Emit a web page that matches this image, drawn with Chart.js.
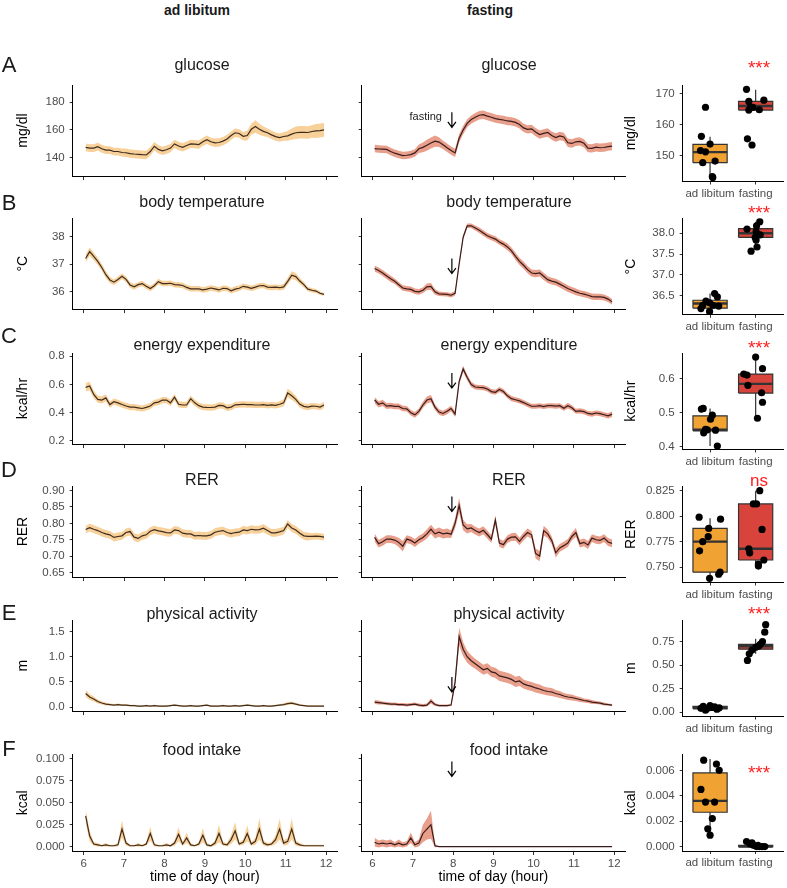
<!DOCTYPE html>
<html>
<head>
<meta charset="utf-8">
<script src="https://cdn.jsdelivr.net/npm/chart.js@4.4.1/dist/chart.umd.min.js"></script>
<style>
  body { margin: 0; background: #fff; }
  #fig { position: relative; width: 787px; height: 888px; overflow: hidden; font-family: "Liberation Sans", Arial, sans-serif; background: #fff; }
  #fig canvas { position: absolute; }
  .lbl { position: absolute; transform: translate(-50%, -50%); white-space: nowrap; color: #1a1a1a; line-height: 1; }
  .head { font-size: 14px; font-weight: bold; }
  .letter { font-size: 22px; }
  .title { font-size: 16px; }
  .star { font-size: 19px; color: #ff1f1f; }
  .ns { font-size: 17px; color: #ff1f1f; }
</style>
</head>
<body>
<div id="fig"></div>
<script>
// ---- time axis ----
const TIME_H = [
  6.05, 6.15, 6.25, 6.35, 6.45, 6.55, 6.65, 6.75, 6.85, 6.95,
  7.05, 7.15, 7.25, 7.35, 7.45, 7.55, 7.65, 7.75, 7.85, 7.95,
  8.05, 8.15, 8.25, 8.35, 8.45, 8.55, 8.65, 8.75, 8.85, 8.95,
  9.05, 9.15, 9.25, 9.35, 9.45, 9.55, 9.65, 9.75, 9.85, 9.95,
  10.05, 10.15, 10.25, 10.35, 10.45, 10.55, 10.65, 10.75, 10.85, 10.95,
  11.05, 11.15, 11.25, 11.35, 11.45, 11.55, 11.65, 11.75, 11.85, 11.95
];
const X_TICKS = [6, 7, 8, 9, 10, 11, 12];
const GROUPS = ['ad libitum', 'fasting'];

// ---- glucose ----
const GLU_AL_MEAN = [
  147.5, 147, 147, 148, 146.5, 145.5, 145.5, 144.5, 144.5, 143.8,
  143.6, 143, 142.7, 142.5, 142.2, 142, 144.5, 148.3, 146, 145,
  145.8, 147, 150, 148.5, 147.5, 148.8, 150, 149.8, 149.5, 151.5,
  153, 151.5, 150.8, 151, 152, 153.5, 156, 158, 157.5, 155.5,
  156, 160.5, 162.5, 160.5, 159, 158, 156.5, 155.2, 154.5, 155.3,
  155.8, 157, 158, 158.3, 158.3, 158.2, 158.9, 159.3, 159.6, 160.1
];
const GLU_AL_SEM = [
  2.8, 2.8, 2.8, 2.8, 2.8, 2.8, 2.8, 2.8, 2.8, 2.8,
  3, 3, 3, 3, 3, 3, 3, 3, 3, 3,
  3, 3, 3, 3, 3, 3, 3, 3, 3, 3,
  3, 3, 3, 3, 3, 3, 3, 3, 3, 3,
  3.5, 4, 4.5, 4, 3.5, 3, 3, 3, 3, 3,
  3.5, 4, 4.5, 4.5, 4.5, 4.5, 4.5, 5, 5, 5
];
const GLU_FA_MEAN = [
  146.6, 146.3, 146.2, 146, 144.5, 143.3, 142.4, 141.6, 141.8, 142.3,
  143.5, 146.5, 147.5, 149, 150.6, 152, 151.3, 149.3, 147.2, 145.2,
  143.5, 154, 160, 164.8, 167.5, 169.2, 170.6, 171, 170, 169.2,
  168.2, 167.6, 167.2, 166.5, 166.2, 165.5, 164, 161.5, 160.5, 160.8,
  158.5, 156.7, 157.6, 158.2, 156, 154.6, 155.7, 155, 150.8, 150.3,
  151.5, 151.8, 150.4, 147, 146.8, 147.6, 147.2, 147.4, 148, 148.4
];
const GLU_FA_SEM = [
  2.7, 2.7, 2.7, 2.7, 2.7, 2.7, 2.7, 2.7, 2.7, 2.7,
  2.7, 3, 3.5, 4, 4, 4, 3.5, 3, 3, 3,
  3, 3, 3, 3, 3, 3, 3, 3, 3, 3,
  3, 3, 3, 3, 3, 3, 3, 3, 3, 3,
  3, 3, 3, 3, 3, 3, 3, 3, 3, 3,
  3, 3, 3, 3, 3, 3, 3, 3, 3, 3
];
const GLU_TICKS = ['140', '160', '180'];
const GLU_BOX_TICKS = ['150', '160', '170'];
// lo, q1, median, q3, hi
const GLU_BOX_AL = [142.6, 147.8, 151.2, 153.7, 156.2];
const GLU_BOX_FA = [164.7, 164.8, 166.1, 167.6, 171.4];
const GLU_PTS_AL_X = [0.90, 0.81, 1.00, 0.79, 0.90, 0.84, 1.11, 1.05, 1.06];
const GLU_PTS_AL_Y = [165.7, 156.3, 153.8, 151.7, 151.3, 147.8, 148.3, 143.3, 143.0];
const GLU_PTS_FA_X = [1.80, 1.85, 1.89, 1.94, 1.85, 2.08, 2.18, 1.82, 1.92];
const GLU_PTS_FA_Y = [171.5, 167.6, 165.7, 165.7, 164.8, 164.9, 168.0, 155.5, 153.5];

// ---- body temperature ----
const TEMP_AL_MEAN = [
  37.2, 37.45, 37.28, 37.1, 36.88, 36.62, 36.43, 36.35, 36.45, 36.56,
  36.45, 36.25, 36.18, 36.26, 36.3, 36.2, 36.12, 36.22, 36.37, 36.3,
  36.3, 36.31, 36.26, 36.25, 36.23, 36.16, 36.11, 36.11, 36.11, 36.07,
  36.1, 36.14, 36.11, 36.07, 36.13, 36.12, 36.04, 36.1, 36.13, 36.2,
  36.17, 36.13, 36.17, 36.22, 36.23, 36.17, 36.16, 36.17, 36.15, 36.18,
  36.38, 36.6, 36.55, 36.39, 36.26, 36.1, 36.06, 36.03, 35.95, 35.91
];
const TEMP_AL_SEM = [
  0.15, 0.15, 0.14, 0.13, 0.12, 0.12, 0.11, 0.1, 0.1, 0.1,
  0.1, 0.1, 0.1, 0.1, 0.1, 0.1, 0.1, 0.1, 0.1, 0.1,
  0.1, 0.1, 0.1, 0.1, 0.1, 0.1, 0.1, 0.1, 0.1, 0.1,
  0.1, 0.1, 0.1, 0.1, 0.1, 0.1, 0.1, 0.1, 0.1, 0.1,
  0.1, 0.1, 0.1, 0.1, 0.1, 0.1, 0.1, 0.1, 0.1, 0.1,
  0.12, 0.14, 0.13, 0.11, 0.1, 0.08, 0.08, 0.07, 0.06, 0.05
];
const TEMP_FA_MEAN = [
  36.84, 36.77, 36.68, 36.57, 36.47, 36.38, 36.26, 36.14, 36.11, 36.09,
  36.02, 36.0, 36.06, 36.18, 36.2, 36.0, 35.93, 35.92, 35.91, 35.88,
  35.95, 37.0, 37.97, 38.38, 38.38, 38.3, 38.22, 38.12, 38.02, 37.96,
  37.9, 37.8, 37.72, 37.62, 37.48, 37.28, 37.1, 36.96, 36.8, 36.68,
  36.66, 36.68, 36.56, 36.44, 36.39, 36.35, 36.28, 36.2, 36.12, 36.06,
  36.0, 35.95, 35.92, 35.88, 35.83, 35.82, 35.82, 35.8, 35.74, 35.64
];
const TEMP_FA_SEM = [
  0.11, 0.11, 0.11, 0.11, 0.11, 0.1, 0.1, 0.1, 0.1, 0.1,
  0.1, 0.1, 0.1, 0.12, 0.12, 0.1, 0.08, 0.08, 0.08, 0.08,
  0.08, 0.08, 0.08, 0.08, 0.08, 0.09, 0.1, 0.1, 0.1, 0.1,
  0.1, 0.1, 0.11, 0.12, 0.12, 0.13, 0.13, 0.13, 0.13, 0.13,
  0.13, 0.13, 0.13, 0.12, 0.12, 0.12, 0.12, 0.12, 0.12, 0.12,
  0.12, 0.11, 0.11, 0.11, 0.11, 0.11, 0.11, 0.11, 0.1, 0.1
];
const TEMP_TICKS = ['36', '37', '38'];
const TEMP_BOX_TICKS = ['36.5', '37.0', '37.5', '38.0'];
const TEMP_BOX_AL = [36.12, 36.20, 36.31, 36.39, 36.55];
const TEMP_BOX_FA = [37.67, 37.90, 38.00, 38.11, 38.28];
const TEMP_PTS_AL_X = [1.10, 1.16, 0.91, 0.99, 0.84, 1.06, 1.19, 0.80, 0.99];
const TEMP_PTS_AL_Y = [36.55, 36.47, 36.37, 36.33, 36.27, 36.27, 36.25, 36.19, 36.12];
const TEMP_PTS_FA_X = [2.09, 2.02, 1.81, 2.01, 2.10, 1.99, 2.01, 2.03, 1.90];
const TEMP_PTS_FA_Y = [38.28, 38.18, 38.10, 38.04, 37.96, 37.90, 37.84, 37.67, 37.57];

// ---- energy expenditure ----
const EE_AL_MEAN = [
  0.58, 0.59, 0.53, 0.495, 0.49, 0.505, 0.458, 0.478, 0.47, 0.458,
  0.448, 0.44, 0.44, 0.435, 0.43, 0.438, 0.448, 0.47, 0.475, 0.49,
  0.49, 0.47, 0.51, 0.46, 0.455, 0.455, 0.5, 0.47, 0.45, 0.44,
  0.438, 0.437, 0.44, 0.452, 0.45, 0.435, 0.44, 0.456, 0.458, 0.46,
  0.458, 0.458, 0.455, 0.455, 0.458, 0.452, 0.455, 0.452, 0.46, 0.47,
  0.54, 0.52, 0.495, 0.46, 0.445, 0.44, 0.447, 0.446, 0.44, 0.455
];
const EE_AL_SEM = [
  0.03, 0.03, 0.028, 0.025, 0.025, 0.025, 0.022, 0.022, 0.022, 0.022,
  0.022, 0.022, 0.022, 0.022, 0.022, 0.022, 0.022, 0.022, 0.022, 0.022,
  0.022, 0.022, 0.022, 0.022, 0.022, 0.022, 0.022, 0.022, 0.022, 0.022,
  0.022, 0.022, 0.022, 0.022, 0.022, 0.022, 0.022, 0.022, 0.022, 0.022,
  0.022, 0.022, 0.022, 0.022, 0.022, 0.022, 0.022, 0.022, 0.022, 0.025,
  0.03, 0.028, 0.025, 0.022, 0.022, 0.022, 0.022, 0.022, 0.022, 0.022
];
const EE_FA_MEAN = [
  0.49, 0.46, 0.47, 0.447, 0.45, 0.445, 0.445, 0.43, 0.428, 0.4,
  0.385, 0.41, 0.455, 0.49, 0.5, 0.44, 0.405, 0.395, 0.41, 0.43,
  0.39, 0.62, 0.71, 0.65, 0.6, 0.582, 0.579, 0.578, 0.568, 0.55,
  0.545, 0.565, 0.55, 0.52, 0.5, 0.492, 0.484, 0.472, 0.458, 0.446,
  0.446, 0.45, 0.444, 0.45, 0.45, 0.447, 0.45, 0.432, 0.45, 0.435,
  0.41, 0.413, 0.408, 0.395, 0.39, 0.398, 0.394, 0.386, 0.378, 0.39
];
const EE_FA_SEM = [
  0.022, 0.022, 0.022, 0.02, 0.02, 0.02, 0.02, 0.02, 0.02, 0.02,
  0.02, 0.02, 0.022, 0.025, 0.025, 0.02, 0.02, 0.02, 0.02, 0.02,
  0.02, 0.02, 0.022, 0.02, 0.02, 0.018, 0.018, 0.018, 0.018, 0.018,
  0.018, 0.018, 0.018, 0.018, 0.018, 0.018, 0.018, 0.018, 0.018, 0.018,
  0.018, 0.018, 0.018, 0.018, 0.018, 0.018, 0.018, 0.018, 0.02, 0.018,
  0.018, 0.018, 0.018, 0.018, 0.018, 0.018, 0.018, 0.018, 0.018, 0.02
];
const EE_TICKS = ['0.2', '0.4', '0.6', '0.8'];
const EE_BOX_TICKS = ['0.4', '0.5', '0.6'];
const EE_BOX_AL = [0.402, 0.447, 0.450, 0.491, 0.513];
const EE_BOX_FA = [0.484, 0.558, 0.585, 0.614, 0.666];
const EE_PTS_AL_X = [0.81, 0.85, 1.05, 1.01, 0.90, 0.94, 0.86, 1.12, 1.16];
const EE_PTS_AL_Y = [0.511, 0.513, 0.493, 0.481, 0.451, 0.450, 0.441, 0.449, 0.402];
const EE_PTS_FA_X = [2.00, 1.74, 1.81, 2.15, 1.83, 2.13, 2.15, 2.04];
const EE_PTS_FA_Y = [0.664, 0.614, 0.611, 0.630, 0.581, 0.559, 0.531, 0.484];

// ---- RER ----
const RER_AL_MEAN = [
  0.781, 0.787, 0.782, 0.778, 0.772, 0.768, 0.765, 0.757, 0.76, 0.762,
  0.772, 0.775, 0.758, 0.754, 0.762, 0.765, 0.776, 0.781, 0.777, 0.775,
  0.772, 0.771, 0.78, 0.778, 0.77, 0.768, 0.768, 0.762, 0.763, 0.762,
  0.762, 0.765, 0.773, 0.776, 0.778, 0.772, 0.769, 0.772, 0.773, 0.78,
  0.778, 0.782, 0.78, 0.781, 0.785, 0.778, 0.771, 0.771, 0.774, 0.778,
  0.798, 0.786, 0.78, 0.77, 0.762, 0.76, 0.76, 0.761, 0.76, 0.758
];
const RER_AL_SEM = [
  0.012, 0.012, 0.012, 0.012, 0.012, 0.012, 0.012, 0.012, 0.012, 0.012,
  0.012, 0.012, 0.012, 0.012, 0.012, 0.012, 0.012, 0.012, 0.012, 0.012,
  0.012, 0.012, 0.012, 0.012, 0.012, 0.012, 0.012, 0.012, 0.012, 0.012,
  0.012, 0.012, 0.012, 0.012, 0.012, 0.012, 0.012, 0.012, 0.012, 0.012,
  0.012, 0.012, 0.012, 0.012, 0.012, 0.012, 0.012, 0.012, 0.012, 0.012,
  0.012, 0.012, 0.012, 0.012, 0.012, 0.012, 0.01, 0.01, 0.01, 0.01
];
const RER_FA_MEAN = [
  0.757, 0.738, 0.744, 0.752, 0.752, 0.749, 0.742, 0.73, 0.752, 0.748,
  0.74, 0.75, 0.757, 0.768, 0.782, 0.768, 0.773, 0.768, 0.77, 0.767,
  0.8, 0.855, 0.795, 0.783, 0.786, 0.778, 0.772, 0.779, 0.766, 0.752,
  0.81, 0.74, 0.735, 0.752, 0.758, 0.759, 0.745, 0.76, 0.772, 0.765,
  0.708, 0.7, 0.778, 0.768, 0.748, 0.71, 0.725, 0.732, 0.74, 0.76,
  0.772, 0.738, 0.742, 0.734, 0.755, 0.75, 0.748, 0.755, 0.743, 0.739
];
const RER_FA_SEM = [
  0.012, 0.012, 0.012, 0.012, 0.012, 0.012, 0.014, 0.016, 0.012, 0.012,
  0.012, 0.012, 0.012, 0.014, 0.014, 0.014, 0.014, 0.014, 0.014, 0.012,
  0.015, 0.022, 0.016, 0.014, 0.012, 0.012, 0.012, 0.012, 0.012, 0.012,
  0.015, 0.012, 0.012, 0.012, 0.012, 0.012, 0.012, 0.012, 0.012, 0.012,
  0.015, 0.016, 0.015, 0.013, 0.012, 0.014, 0.012, 0.012, 0.012, 0.012,
  0.014, 0.012, 0.012, 0.012, 0.012, 0.012, 0.012, 0.012, 0.012, 0.012
];
const RER_TICKS = ['0.65', '0.70', '0.75', '0.80', '0.85', '0.90'];
const RER_BOX_TICKS = ['0.750', '0.775', '0.800', '0.825'];
const RER_BOX_AL = [0.739, 0.745, 0.775, 0.788, 0.798];
const RER_BOX_FA = [0.751, 0.757, 0.768, 0.812, 0.825];
const RER_PTS_AL_X = [0.76, 1.23, 0.97, 0.96, 0.84, 0.77, 1.22, 1.19, 0.99];
const RER_PTS_AL_Y = [0.799, 0.797, 0.788, 0.780, 0.775, 0.766, 0.745, 0.743, 0.739];
const RER_PTS_FA_X = [2.09, 1.95, 2.02, 2.14, 1.85, 1.87, 2.18, 2.06, 2.06];
const RER_PTS_FA_Y = [0.825, 0.812, 0.812, 0.787, 0.768, 0.764, 0.757, 0.753, 0.751];

// ---- physical activity ----
const ACT_AL_MEAN = [
  0.27, 0.2, 0.16, 0.11, 0.08, 0.06, 0.05, 0.04, 0.05, 0.04,
  0.04, 0.03, 0.03, 0.02, 0.02, 0.03, 0.02, 0.03, 0.02, 0.02,
  0.02, 0.03, 0.04, 0.03, 0.02, 0.02, 0.03, 0.02, 0.02, 0.03,
  0.04, 0.02, 0.02, 0.02, 0.03, 0.02, 0.02, 0.03, 0.02, 0.03,
  0.04, 0.03, 0.02, 0.02, 0.03, 0.02, 0.02, 0.03, 0.04, 0.05,
  0.07, 0.08, 0.06, 0.04, 0.03, 0.02, 0.02, 0.02, 0.02, 0.02
];
const ACT_AL_SEM = [
  0.07, 0.06, 0.05, 0.04, 0.03, 0.03, 0.02, 0.02, 0.02, 0.02,
  0.02, 0.015, 0.015, 0.015, 0.015, 0.015, 0.015, 0.015, 0.015, 0.015,
  0.015, 0.015, 0.015, 0.015, 0.015, 0.015, 0.015, 0.015, 0.015, 0.015,
  0.015, 0.015, 0.015, 0.015, 0.015, 0.015, 0.015, 0.015, 0.015, 0.015,
  0.015, 0.015, 0.015, 0.015, 0.015, 0.015, 0.015, 0.015, 0.02, 0.025,
  0.03, 0.03, 0.025, 0.02, 0.015, 0.015, 0.015, 0.015, 0.015, 0.015
];
const ACT_FA_MEAN = [
  0.1, 0.09, 0.08, 0.07, 0.06, 0.06, 0.05, 0.05, 0.04, 0.05,
  0.06, 0.04, 0.03, 0.04, 0.12, 0.05, 0.03, 0.03, 0.03, 0.04,
  0.5, 1.4, 1.15, 1.0, 0.92, 0.86, 0.8, 0.74, 0.77, 0.7,
  0.68, 0.62, 0.6, 0.58, 0.55, 0.5, 0.52, 0.46, 0.43, 0.41,
  0.38, 0.36, 0.33, 0.31, 0.3, 0.27, 0.25, 0.22, 0.2, 0.19,
  0.17, 0.15, 0.13, 0.12, 0.1, 0.09, 0.08, 0.06, 0.05, 0.04
];
const ACT_FA_SEM = [
  0.04, 0.04, 0.03, 0.03, 0.03, 0.03, 0.03, 0.03, 0.03, 0.03,
  0.03, 0.03, 0.03, 0.03, 0.05, 0.03, 0.02, 0.02, 0.02, 0.02,
  0.1, 0.18, 0.14, 0.12, 0.11, 0.1, 0.1, 0.1, 0.1, 0.1,
  0.1, 0.1, 0.1, 0.1, 0.1, 0.1, 0.1, 0.09, 0.09, 0.09,
  0.09, 0.09, 0.08, 0.08, 0.08, 0.07, 0.07, 0.06, 0.06, 0.06,
  0.05, 0.05, 0.04, 0.04, 0.04, 0.03, 0.03, 0.03, 0.02, 0.02
];
const ACT_TICKS = ['0.0', '0.5', '1.0', '1.5'];
const ACT_BOX_TICKS = ['0.00', '0.25', '0.50', '0.75'];
const ACT_BOX_AL = [0.02, 0.035, 0.045, 0.06, 0.08];
const ACT_BOX_FA = [0.62, 0.67, 0.70, 0.72, 0.78];
const ACT_PTS_AL_X = [0.85, 0.95, 1.05, 1.15, 0.90, 1.10, 0.80, 1.20, 1.00];
const ACT_PTS_AL_Y = [0.06, 0.04, 0.05, 0.03, 0.02, 0.055, 0.04, 0.045, 0.07];
const ACT_PTS_FA_X = [1.82, 1.86, 1.92, 2.00, 2.06, 2.10, 2.15, 2.20, 2.22];
const ACT_PTS_FA_Y = [0.55, 0.62, 0.66, 0.69, 0.70, 0.72, 0.75, 0.85, 0.93];

// ---- food intake ----
const FOOD_AL_MEAN = [
  0.035, 0.012, 0.003, 0.002, 0.001, 0.002, 0.001, 0.001, 0.002, 0.02,
  0.004, 0.001, 0.001, 0.002, 0.001, 0.003, 0.015, 0.002, 0.001, 0.001,
  0.002, 0.001, 0.004, 0.014, 0.003, 0.01, 0.002, 0.001, 0.003, 0.013,
  0.002, 0.001, 0.004, 0.015, 0.003, 0.002, 0.008, 0.018, 0.003, 0.005,
  0.015, 0.003, 0.006, 0.02, 0.004, 0.002, 0.003, 0.008, 0.02, 0.004,
  0.006, 0.02, 0.004, 0.002, 0.001, 0.001, 0.001, 0.001, 0.001, 0.001
];
const FOOD_AL_SEM = [
  0.008, 0.006, 0.002, 0.002, 0.001, 0.002, 0.001, 0.001, 0.002, 0.01,
  0.003, 0.001, 0.001, 0.002, 0.001, 0.002, 0.008, 0.002, 0.001, 0.001,
  0.002, 0.001, 0.003, 0.008, 0.002, 0.006, 0.002, 0.001, 0.002, 0.008,
  0.002, 0.001, 0.003, 0.01, 0.002, 0.002, 0.005, 0.01, 0.002, 0.003,
  0.009, 0.002, 0.004, 0.012, 0.003, 0.002, 0.002, 0.005, 0.012, 0.003,
  0.004, 0.012, 0.003, 0.002, 0.001, 0.001, 0.001, 0.001, 0.001, 0.001
];
const FOOD_FA_MEAN = [
  0.005, 0.003, 0.004, 0.003, 0.004, 0.002, 0.004, 0.002, 0.003, 0.01,
  0.002, 0.004, 0.015, 0.02, 0.025, 0.001, 0, 0, 0, 0,
  0, 0, 0, 0, 0, 0, 0, 0, 0, 0,
  0, 0, 0, 0, 0, 0, 0, 0, 0, 0,
  0, 0, 0, 0, 0, 0, 0, 0, 0, 0,
  0, 0, 0, 0, 0, 0, 0, 0, 0, 0
];
const FOOD_FA_SEM = [
  0.005, 0.004, 0.004, 0.004, 0.004, 0.003, 0.004, 0.003, 0.003, 0.006,
  0.003, 0.004, 0.01, 0.012, 0.016, 0.002, 0, 0, 0, 0,
  0, 0, 0, 0, 0, 0, 0, 0, 0, 0,
  0, 0, 0, 0, 0, 0, 0, 0, 0, 0,
  0, 0, 0, 0, 0, 0, 0, 0, 0, 0,
  0, 0, 0, 0, 0, 0, 0, 0, 0, 0
];
const FOOD_TICKS = ['0.000', '0.025', '0.050', '0.075', '0.100'];
const FOOD_BOX_TICKS = ['0.000', '0.002', '0.004', '0.006'];
const FOOD_BOX_AL = [0.0009, 0.0027, 0.0036, 0.0058, 0.0069];
const FOOD_BOX_FA = [0, 0, 0, 0.0001, 0.0002];
const FOOD_PTS_AL_X = [0.86, 1.14, 1.20, 0.80, 1.10, 0.90, 1.05, 0.95, 1.00];
const FOOD_PTS_AL_Y = [0.0068, 0.0065, 0.0060, 0.0045, 0.0035, 0.0035, 0.0022, 0.0014, 0.0009];
const FOOD_PTS_FA_X = [1.80, 1.88, 1.95, 2.02, 2.08, 2.14, 2.20, 1.92, 2.05];
const FOOD_PTS_FA_Y = [0.0004, 0.0002, 0.0001, 0, 0, 0, 0, 0.0003, 0.0001];

// ---- layout / style ----
const FONT = 'Liberation Sans';
const TICK_COL = '#4d4d4d';
const LINE_COL = ['#3e2c1f', '#3a1c1c'];
const RIBBON_COL = ['#f7d09a', '#e89f8b'];
const BOX_FILL = ['#f0a232', '#d8443b'];
const BOX_HALF = 0.375;

const COLS = {
  left:   { left: 0,   width: 340, yw: 72.7, padR: 3 },
  middle: { left: 355, width: 273, yw: 6.7,  padR: 3 },
  right:  { left: 623, width: 164, yw: 59.7, padR: 0 }
};
const ROW_TOP = [85, 218.3, 353, 486, 620, 754.5];
const PLOT_H = 96.5;
const fig = document.getElementById('fig');

function place(left, top, w, h) {
  const c = document.createElement('canvas');
  c.width = w; c.height = h;
  c.style.left = left + 'px';
  c.style.top = top + 'px';
  fig.appendChild(c);
  return c;
}

function text(cls, str, x, y) {
  const d = document.createElement('div');
  d.className = 'lbl ' + cls;
  d.textContent = str;
  d.style.left = x + 'px';
  d.style.top = y + 'px';
  fig.appendChild(d);
}

// Downward "fasting" arrow, placed in data coordinates
const arrowPlugin = {
  id: 'arrowMark',
  afterDatasetsDraw(chart, args, opts) {
    if (opts.tip == null) return;
    const { ctx, scales: { x, y } } = chart;
    const px = x.getPixelForValue(opts.at);
    const tip = y.getPixelForValue(opts.tip);
    ctx.save();
    ctx.strokeStyle = '#000';
    ctx.lineWidth = 1.2;
    ctx.beginPath();
    ctx.moveTo(px, tip - 15); ctx.lineTo(px, tip);
    ctx.moveTo(px - 4, tip - 5.5); ctx.lineTo(px, tip); ctx.lineTo(px + 4, tip - 5.5);
    ctx.stroke();
    if (opts.label) {
      ctx.fillStyle = '#222';
      ctx.font = '11px "Liberation Sans"';
      ctx.textAlign = 'right';
      ctx.textBaseline = 'middle';
      ctx.fillText(opts.label, px - 10, tip - 10);
    }
    ctx.restore();
  }
};

function frame(row, col, xh) {
  const c = COLS[col];
  const T = ROW_TOP[row];
  const top = Math.floor(T - 14);
  const padT = T - top;
  const h = Math.ceil(padT + PLOT_H + xh);
  return {
    canvas: place(c.left, top, c.width, h),
    padding: { top: padT, right: c.padR, bottom: h - padT - PLOT_H - xh, left: 0 },
    c
  };
}

function yScale(ax, c, showLabels, titlePad) {
  return {
    min: ax.min, max: ax.max,
    afterBuildTicks: s => { s.ticks = ax.ticks.map(t => ({ value: parseFloat(t) })); },
    afterFit: s => { s.width = c.yw; },
    grid: { drawOnChartArea: false, drawTicks: true, tickLength: 3, color: '#333', lineWidth: 1 },
    border: { display: true, color: '#000', width: 1 },
    ticks: {
      autoSkip: false, padding: 5, color: TICK_COL,
      font: { family: FONT, size: 11.5 },
      callback: (v, i) => showLabels ? ax.ticks[i] : ''
    },
    title: {
      display: !!ax.title, text: ax.title, color: '#000',
      font: { family: FONT, size: 14 }, padding: { top: titlePad, bottom: 0 }
    }
  };
}

function drawSeries(row, col, grp, mean, sem, ax, arrow) {
  const last = row === ROW_TOP.length - 1;
  const xh = last ? 37 : 6;
  const { canvas, padding, c } = frame(row, col, xh);
  const isLeft = col === 'left';
  const pts = arr => arr.map((v, i) => ({ x: TIME_H[i], y: v }));
  new Chart(canvas, {
    type: 'line',
    plugins: arrow ? [arrowPlugin] : [],
    data: {
      datasets: [
        { data: pts(mean), borderColor: LINE_COL[grp], borderWidth: 1.2, pointRadius: 0, fill: false, order: 0 },
        { data: pts(mean.map((m, i) => m + sem[i])), borderWidth: 0, pointRadius: 0,
          backgroundColor: RIBBON_COL[grp], fill: '+1', order: 1 },
        { data: pts(mean.map((m, i) => m - sem[i])), borderWidth: 0, pointRadius: 0, fill: false, order: 2 }
      ]
    },
    options: {
      responsive: false, animation: false, devicePixelRatio: 1,
      layout: { padding },
      plugins: { legend: { display: false }, tooltip: { enabled: false }, arrowMark: arrow || {} },
      scales: {
        x: {
          type: 'linear', min: 5.73, max: 12.27,
          afterBuildTicks: s => { s.ticks = X_TICKS.map(v => ({ value: v })); },
          afterFit: s => { s.height = xh; },
          grid: { drawOnChartArea: false, drawTicks: true, tickLength: 4, color: '#333', lineWidth: 1 },
          border: { display: true, color: '#000', width: 1 },
          ticks: {
            autoSkip: false, maxRotation: 0, padding: 2, color: TICK_COL,
            font: { family: FONT, size: 11.5 },
            callback: v => last ? String(v) : ''
          },
          title: {
            display: last, text: 'time of day (hour)', color: '#000',
            font: { family: FONT, size: 14 }, padding: { top: 0, bottom: 2.6 }
          }
        },
        y: yScale({ ...ax, title: isLeft ? ax.title : '' }, c, isLeft, 15)
      }
    }
  });
}

function boxSets(pos, stats, xs, ys, g) {
  const [lo, q1, med, q3, hi] = stats;
  return [
    { data: xs.map((x, i) => ({ x, y: ys[i] })), pointRadius: 3.6, pointBackgroundColor: '#000',
      pointBorderWidth: 0, showLine: false, order: 1 },
    { data: [{ x: pos - BOX_HALF, y: med }, { x: pos + BOX_HALF, y: med }], showLine: true,
      borderColor: '#333', borderWidth: 2.4, pointRadius: 0, order: 2 },
    { data: [{ x: pos - BOX_HALF, y: q1 }, { x: pos + BOX_HALF, y: q1 }, { x: pos + BOX_HALF, y: q3 },
             { x: pos - BOX_HALF, y: q3 }, { x: pos - BOX_HALF, y: q1 }],
      showLine: true, fill: 'shape', backgroundColor: BOX_FILL[g], borderColor: '#333',
      borderWidth: 1.2, pointRadius: 0, order: 3 },
    { data: [{ x: pos, y: lo }, { x: pos, y: hi }], showLine: true, borderColor: '#333',
      borderWidth: 1.2, pointRadius: 0, order: 4 }
  ];
}

function drawBox(row, statsAL, statsFA, alX, alY, faX, faY, ax) {
  const { canvas, padding, c } = frame(row, 'right', 22);
  new Chart(canvas, {
    type: 'scatter',
    data: { datasets: [...boxSets(1, statsAL, alX, alY, 0), ...boxSets(2, statsFA, faX, faY, 1)] },
    options: {
      responsive: false, animation: false, devicePixelRatio: 1,
      layout: { padding },
      plugins: { legend: { display: false }, tooltip: { enabled: false } },
      scales: {
        x: {
          type: 'linear', min: 0.4, max: 2.6,
          afterBuildTicks: s => { s.ticks = [{ value: 1 }, { value: 2 }]; },
          afterFit: s => { s.height = 22; },
          grid: { drawOnChartArea: false, drawTicks: true, tickLength: 3, color: '#333', lineWidth: 1 },
          border: { display: true, color: '#000', width: 1 },
          ticks: {
            autoSkip: false, maxRotation: 0, padding: 2, color: TICK_COL,
            font: { family: FONT, size: 11.5 },
            callback: (v, i) => GROUPS[i]
          }
        },
        y: yScale(ax, c, true, 0)
      }
    }
  });
}

// ---- rows ----
drawSeries(0, 'left', 0, GLU_AL_MEAN, GLU_AL_SEM, { min: 126.8, max: 192.4, ticks: GLU_TICKS, title: 'mg/dl' });
drawSeries(0, 'middle', 1, GLU_FA_MEAN, GLU_FA_SEM, { min: 126.8, max: 192.4, ticks: GLU_TICKS },
  { at: 7.97, tip: 161.9, label: 'fasting' });
drawBox(0, GLU_BOX_AL, GLU_BOX_FA, GLU_PTS_AL_X, GLU_PTS_AL_Y, GLU_PTS_FA_X, GLU_PTS_FA_Y,
  { min: 141.7, max: 172.9, ticks: GLU_BOX_TICKS, title: 'mg/dl' });

drawSeries(1, 'left', 0, TEMP_AL_MEAN, TEMP_AL_SEM, { min: 35.38, max: 38.65, ticks: TEMP_TICKS, title: '°C' });
drawSeries(1, 'middle', 1, TEMP_FA_MEAN, TEMP_FA_SEM, { min: 35.38, max: 38.65, ticks: TEMP_TICKS },
  { at: 7.97, tip: 36.66 });
drawBox(1, TEMP_BOX_AL, TEMP_BOX_FA, TEMP_PTS_AL_X, TEMP_PTS_AL_Y, TEMP_PTS_FA_X, TEMP_PTS_FA_Y,
  { min: 36.04, max: 38.36, ticks: TEMP_BOX_TICKS, title: '°C' });

drawSeries(2, 'left', 0, EE_AL_MEAN, EE_AL_SEM, { min: 0.178, max: 0.823, ticks: EE_TICKS, title: 'kcal/hr' });
drawSeries(2, 'middle', 1, EE_FA_MEAN, EE_FA_SEM, { min: 0.178, max: 0.823, ticks: EE_TICKS },
  { at: 7.97, tip: 0.575 });
drawBox(2, EE_BOX_AL, EE_BOX_FA, EE_PTS_AL_X, EE_PTS_AL_Y, EE_PTS_FA_X, EE_PTS_FA_Y,
  { min: 0.392, max: 0.676, ticks: EE_BOX_TICKS, title: 'kcal/hr' });

drawSeries(3, 'left', 0, RER_AL_MEAN, RER_AL_SEM, { min: 0.636, max: 0.914, ticks: RER_TICKS, title: 'RER' });
drawSeries(3, 'middle', 1, RER_FA_MEAN, RER_FA_SEM, { min: 0.636, max: 0.914, ticks: RER_TICKS },
  { at: 7.97, tip: 0.836 });
drawBox(3, RER_BOX_AL, RER_BOX_FA, RER_PTS_AL_X, RER_PTS_AL_Y, RER_PTS_FA_X, RER_PTS_FA_Y,
  { min: 0.7349, max: 0.8296, ticks: RER_BOX_TICKS, title: 'RER' });

drawSeries(4, 'left', 0, ACT_AL_MEAN, ACT_AL_SEM, { min: -0.08, max: 1.73, ticks: ACT_TICKS, title: 'm' });
drawSeries(4, 'middle', 1, ACT_FA_MEAN, ACT_FA_SEM, { min: -0.08, max: 1.73, ticks: ACT_TICKS },
  { at: 7.97, tip: 0.3 });
drawBox(4, ACT_BOX_AL, ACT_BOX_FA, ACT_PTS_AL_X, ACT_PTS_AL_Y, ACT_PTS_FA_X, ACT_PTS_FA_Y,
  { min: -0.047, max: 0.98, ticks: ACT_BOX_TICKS, title: 'm' });

drawSeries(5, 'left', 0, FOOD_AL_MEAN, FOOD_AL_SEM, { min: -0.005, max: 0.105, ticks: FOOD_TICKS, title: 'kcal' });
drawSeries(5, 'middle', 1, FOOD_FA_MEAN, FOOD_FA_SEM, { min: -0.005, max: 0.105, ticks: FOOD_TICKS },
  { at: 7.97, tip: 0.08 });
drawBox(5, FOOD_BOX_AL, FOOD_BOX_FA, FOOD_PTS_AL_X, FOOD_PTS_AL_Y, FOOD_PTS_FA_X, FOOD_PTS_FA_Y,
  { min: -0.00035, max: 0.00725, ticks: FOOD_BOX_TICKS, title: 'kcal' });

// ---- text ----
text('head', 'ad libitum', 197, 10);
text('head', 'fasting', 490, 10);
const LETTERS = ['A', 'B', 'C', 'D', 'E', 'F'];
const LETTER_Y = [65, 202.5, 336, 470, 613, 749];
const TITLES = ['glucose', 'body temperature', 'energy expenditure', 'RER', 'physical activity', 'food intake'];
const TITLE_Y = [65, 202.3, 345, 480, 614, 750];
const STAR_Y = [62.7, 207.7, 342.7, 0, 609, 768];
LETTERS.forEach((l, i) => text('letter', l, 9, LETTER_Y[i]));
TITLES.forEach((t, i) => { text('title', t, 202, TITLE_Y[i]); text('title', t, 509, TITLE_Y[i]); });
STAR_Y.forEach((y, i) => { if (y) text('star', '***', 759, y + 4); });
text('ns', 'ns', 759, 480);
</script>
</body>
</html>
